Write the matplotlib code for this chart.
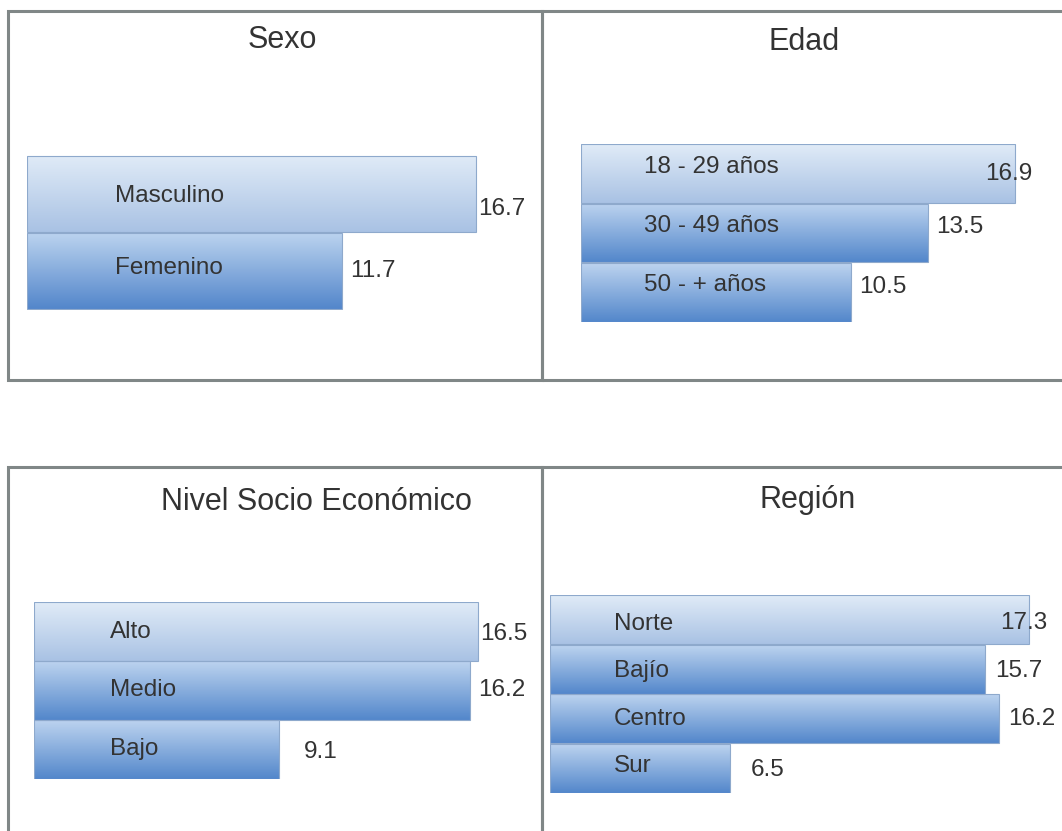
"""
Four-panel horizontal bar chart (Sexo, Edad, NSE, Region) with
gradient-filled bars in boxed panels.
"""
import numpy as np
import matplotlib
matplotlib.use("Agg")
import matplotlib.pyplot as plt
from matplotlib.patches import Rectangle

plt.rcParams["font.family"] = ["Liberation Sans", "DejaVu Sans"]

# ---- data ----
sexo_labels = ["Masculino", "Femenino"]
sexo_values = [16.7, 11.7]

edad_labels = ["18 - 29 años", "30 - 49 años", "50 - + años"]
edad_values = [16.9, 13.5, 10.5]

nse_labels = ["Alto", "Medio", "Bajo"]
nse_values = [16.5, 16.2, 9.1]

region_labels = ["Norte", "Bajío", "Centro", "Sur"]
region_values = [17.3, 15.7, 16.2, 6.5]

W, H = 1062, 831
fig = plt.figure(figsize=(W / 100, H / 100), dpi=100)
TXT = "#333333"
BORDER = "#808787"


def fx(x):
    return x / W


def fy(y):
    return 1 - y / H


# panel frames (pixel boxes, top-left origin)
for x0, y0, x1, y1 in [(8, 11, 542, 380), (542, 11, 1066, 380),
                       (8, 467, 542, 836), (542, 467, 1066, 836)]:
    fig.patches.append(Rectangle((fx(x0), fy(y1)), fx(x1 - x0), (y1 - y0) / H,
                                 transform=fig.transFigure, fill=False,
                                 edgecolor=BORDER, linewidth=2.2, zorder=0))

first_grad = ("#e0ebf7", "#a9c2e4")
other_grad = ("#bcd3ef", "#5387cb")

# panel layout: bar start px, px per unit, bar block top/bottom px,
# label indent/dy px, value label dx/dy px, title position
panels = [
    dict(title="Sexo", labels=sexo_labels, values=sexo_values,
         x0=27, scale=26.9, top=155, bottom=310, indent=88, ldy=[2, -3],
         vdx=[2, 8], vdy=[15, 0], tpos=(282, 40)),
    dict(title="Edad", labels=edad_labels, values=edad_values,
         x0=581, scale=25.7, top=144, bottom=322, indent=63, ldy=[-7, -7, -7],
         vdx=[-30, 8, 8], vdy=[0, -6, -5], tpos=(804, 42)),
    dict(title="Nivel Socio Económico", labels=nse_labels, values=nse_values,
         x0=34, scale=26.9, top=602, bottom=779, indent=76, ldy=[1, 0, -1],
         vdx=[2, 8, 25], vdy=[2, 0, 2], tpos=(316, 502)),
    dict(title="Región", labels=region_labels, values=region_values,
         x0=550, scale=27.7, top=595, bottom=793, indent=64, ldy=[4, 2, 0, -2],
         vdx=[-29, 10, 9, 21], vdy=[3, 2, 0, 2], tpos=(808, 500)),
]

for p in panels:
    n = len(p["values"])
    xmax = 20
    ax = fig.add_axes([fx(p["x0"]), fy(p["bottom"]),
                       xmax * p["scale"] / W, (p["bottom"] - p["top"]) / H])
    ax.set_xlim(0, xmax)
    ax.set_ylim(n - 0.5, -0.5)
    ax.axis("off")

    ypos = np.arange(n)
    bars = ax.barh(ypos, p["values"], height=0.985, facecolor="none",
                   edgecolor="#8ea9cc", linewidth=0.8, zorder=3)
    for i, (bar, v) in enumerate(zip(bars, p["values"])):
        c_top, c_bot = first_grad if i == 0 else other_grad
        t = np.linspace(0, 1, 64)[:, None]
        a = np.array(matplotlib.colors.to_rgb(c_top))
        b = np.array(matplotlib.colors.to_rgb(c_bot))
        grad = (a * (1 - t) + b * t)[:, None, :]
        im = ax.imshow(grad, extent=(0, v, i + 0.4925, i - 0.4925),
                       origin="upper", aspect="auto", zorder=2,
                       interpolation="bilinear")
        im.set_clip_path(bar)
        ax.annotate(p["labels"][i], xy=(0, i),
                    xytext=(p["indent"] * 0.72, -p["ldy"][i] * 0.72),
                    textcoords="offset points",
                    ha="left", va="center", fontsize=17.5, color=TXT, zorder=4)
        ax.annotate(f"{v:.1f}", xy=(v, i),
                    xytext=(p["vdx"][i] * 0.72, -p["vdy"][i] * 0.72),
                    textcoords="offset points", ha="left", va="center",
                    fontsize=17.5, color=TXT, zorder=4)
    ax.set_xlim(0, xmax)
    ax.set_ylim(n - 0.5, -0.5)

    tx, ty = p["tpos"]
    fig.text(fx(tx), fy(ty), p["title"], ha="center", va="center",
             fontsize=22, color=TXT)

fig.savefig("out.png", dpi=100)
